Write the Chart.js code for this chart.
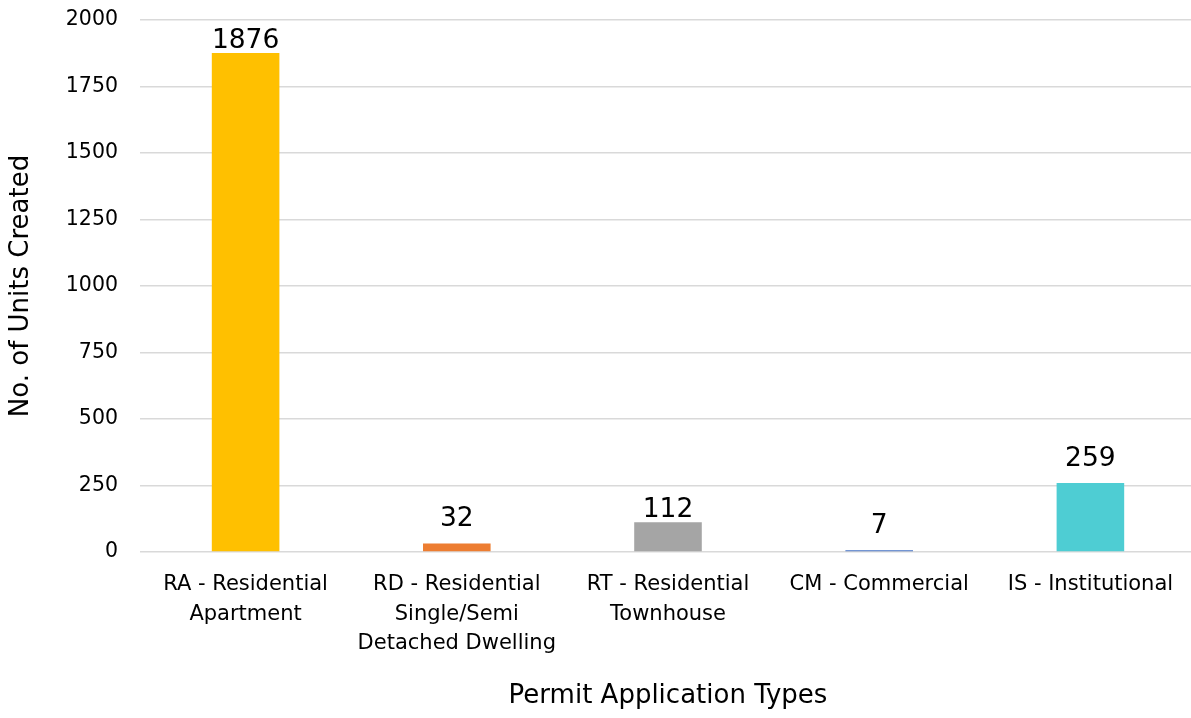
<!DOCTYPE html>
<html>
<head>
<meta charset="utf-8">
<script src="https://cdn.jsdelivr.net/npm/chart.js@4/dist/chart.umd.min.js"></script>
<style>
  html, body { margin: 0; padding: 0; background: #fff; overflow: hidden; }
  #wrap { position: relative; width: 1197px; height: 718px; }
</style>
</head>
<body>
<div id="wrap"><canvas id="chart"></canvas></div>
<script>
// Units created by permit application type
const categories = [
  ['RA - Residential', 'Apartment'],
  ['RD - Residential', 'Single/Semi', 'Detached Dwelling'],
  ['RT - Residential', 'Townhouse'],
  ['CM - Commercial'],
  ['IS - Institutional']
];
const unitsCreated = [1876, 32, 112, 7, 259];
const barColors = ['#FFC000', '#ED7D31', '#A5A5A5', '#4472C4', '#4ECDD3'];
const yTicks = [0, 250, 500, 750, 1000, 1250, 1500, 1750, 2000];

const FONT = '"DejaVu Sans", sans-serif';

// Writes each bar's value above its top, with a per-bar gap
const valueLabels = {
  id: 'valueLabels',
  afterDatasetsDraw(chart, args, opts) {
    const ctx = chart.ctx;
    const meta = chart.getDatasetMeta(0);
    const gaps = opts.gaps || [];
    ctx.save();
    ctx.font = '26.5px ' + FONT;
    ctx.fillStyle = '#000';
    ctx.textAlign = 'center';
    ctx.textBaseline = 'alphabetic';
    meta.data.forEach((bar, i) => {
      const gap = gaps[i] !== undefined ? gaps[i] : 6;
      ctx.fillText(String(chart.data.datasets[0].data[i]), bar.x, bar.y - gap);
    });
    ctx.restore();
  }
};

new Chart(document.getElementById('chart'), {
  type: 'bar',
  data: {
    labels: categories,
    datasets: [{
      data: unitsCreated,
      backgroundColor: barColors,
      borderWidth: 0,
      barPercentage: 0.64,
      categoryPercentage: 0.5
    }]
  },
  options: {
    responsive: true,
    maintainAspectRatio: false,
    animation: false,
    layout: { padding: { top: 20, right: 1, bottom: 0, left: 0 } },
    plugins: {
      legend: { display: false },
      tooltip: { enabled: false },
      valueLabels: { gaps: [5, 17, 5, 17, 17] }
    },
    scales: {
      x: {
        grid: { display: false, drawTicks: false },
        border: { display: false },
        ticks: {
          color: '#000',
          font: { family: FONT, size: 21, lineHeight: 1.4 },
          padding: 18,
          maxRotation: 0,
          autoSkip: false
        },
        title: {
          display: true,
          text: 'Permit Application Types',
          color: '#000',
          font: { family: FONT, size: 26 },
          padding: { top: 0, bottom: 6 }
        },
        afterFit(scale) { scale.height = 166; scale.paddingLeft = 0; scale.paddingRight = 0; }
      },
      y: {
        min: 0,
        max: 2000,
        afterBuildTicks(scale) { scale.ticks = yTicks.map(v => ({ value: v })); },
        grid: { color: '#D9D9D9', lineWidth: 1.5, drawTicks: false },
        border: { display: false },
        ticks: {
          color: '#000',
          font: { family: FONT, size: 20.5 },
          padding: 22,
          callback: (v) => String(v)
        },
        title: {
          display: true,
          text: 'No. of Units Created',
          color: '#000',
          font: { family: FONT, size: 26 },
          padding: { top: 6, bottom: 0 }
        },
        afterFit(scale) { scale.width = 140; scale.paddingTop = 0; scale.paddingBottom = 0; }
      }
    }
  },
  plugins: [valueLabels]
});
</script>
</body>
</html>
